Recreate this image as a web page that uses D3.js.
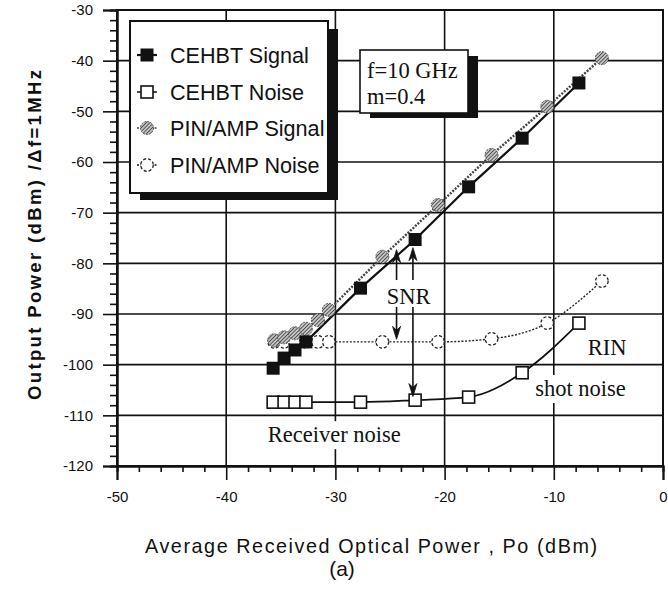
<!DOCTYPE html>
<html>
<head>
<meta charset="utf-8">
<script src="https://cdn.jsdelivr.net/npm/d3@7/dist/d3.min.js"></script>
<style>
  html, body { margin: 0; padding: 0; background: #fff; }
  svg { display: block; }
  .sans { font-family: "Liberation Sans", Arial, Helvetica, sans-serif; }
  .serif { font-family: "Liberation Serif", "Times New Roman", serif; }
</style>
</head>
<body>
<svg id="chart" width="668" height="596"></svg>
<script>
// Received optical power (dBm) for each measured point
const cehbtPower = [-35.7, -34.7, -33.7, -32.7, -27.7, -22.7, -17.8, -12.9, -7.7];
const cehbtSignal = [-100.7, -98.7, -97.1, -95.5, -84.9, -75.3, -64.9, -55.3, -44.4];
const cehbtNoise = [-107.4, -107.4, -107.4, -107.4, -107.4, -107.0, -106.4, -101.6, -91.8];

const pinPower = [-35.6, -34.7, -33.7, -32.7, -31.6, -30.6, -25.7, -20.6, -15.7, -10.6, -5.6];
const pinSignal = [-95.2, -94.6, -93.8, -92.9, -91.2, -89.2, -78.7, -68.5, -58.6, -49.1, -39.5];
const pinNoise = [-95.5, -95.5, -95.5, -95.5, -95.5, -95.5, -95.5, -95.5, -94.9, -91.8, -83.5];

const xTicks = [-50, -40, -30, -20, -10, 0];
const yTicks = [-120, -110, -100, -90, -80, -70, -60, -50, -40, -30];
const xTickLabels = ["-50", "-40", "-30", "-20", "-10", "0"];
const yTickLabels = ["-120", "-110", "-100", "-90", "-80", "-70", "-60", "-50", "-40", "-30"];

const legendLabels = ["CEHBT Signal", "CEHBT Noise", "PIN/AMP Signal", "PIN/AMP Noise"];
const conditionLines = ["f=10 GHz", "m=0.4"];

// SNR arrows: [power, from, to] in dBm
const snrArrows = [
  [-24.4, -83.3, -77.3],
  [-22.9, -83.3, -76.9],
  [-24.4, -88.6, -95.0],
  [-22.9, -88.6, -106.3]
];
// free text notes: [text, power, level]
const notes = [
  ["SNR", -25.3, -88.0],
  ["RIN", -6.9, -98.1],
  ["shot noise", -11.7, -106.2],
  ["Receiver noise", -36.2, -115.3]
];

(function () {
const svg = d3.select("#chart");
const pL = 117, pR = 663, pT = 10, pB = 466;
const x = d3.scaleLinear().domain([-50, 0]).range([pL, pR]);
const y = d3.scaleLinear().domain([-120, -30]).range([pB, pT]);

const defs = svg.append("defs");
const hatch = defs.append("pattern")
  .attr("id", "hatch").attr("patternUnits", "userSpaceOnUse")
  .attr("width", 2.6).attr("height", 2.6)
  .attr("patternTransform", "rotate(45)");
hatch.append("rect").attr("width", 2.6).attr("height", 2.6).attr("fill", "#c4c4c4");
hatch.append("line").attr("x1", 0).attr("y1", 0).attr("x2", 0).attr("y2", 2.6)
  .attr("stroke", "#222").attr("stroke-width", 1.3);

// grid
const grid = svg.append("g").attr("stroke", "#111").attr("stroke-width", 1.6);
grid.selectAll(".gx").data(xTicks).join("line")
  .attr("x1", d => x(d)).attr("x2", d => x(d))
  .attr("y1", pT).attr("y2", pB);
grid.selectAll(".gy").data(yTicks).join("line")
  .attr("x1", pL).attr("x2", pR)
  .attr("y1", d => y(d)).attr("y2", d => y(d));

// axes: major ticks outward, minor ticks every 2 dB
const minorX = d3.range(-50, 0.1, 2).filter(v => !xTicks.includes(v));
const minorY = d3.range(-120, -29.9, 2).filter(v => !yTicks.includes(v));

const xAxis = svg.append("g").attr("transform", `translate(0,${pB})`)
  .call(d3.axisBottom(x).tickValues(xTicks).tickSize(14).tickPadding(14)
    .tickFormat((d, i) => xTickLabels[i]));
const xMinor = svg.append("g").attr("transform", `translate(0,${pB})`)
  .call(d3.axisBottom(x).tickValues(minorX).tickSize(6).tickFormat(""));
const yAxis = svg.append("g").attr("transform", `translate(${pL},0)`)
  .call(d3.axisLeft(y).tickValues(yTicks).tickSize(14).tickPadding(10)
    .tickFormat((d, i) => yTickLabels[i]));
const yMinor = svg.append("g").attr("transform", `translate(${pL},0)`)
  .call(d3.axisLeft(y).tickValues(minorY).tickSize(7).tickFormat(""));

[xAxis, xMinor, yAxis, yMinor].forEach(g => {
  g.select(".domain").attr("stroke", "#111").attr("stroke-width", 2);
  g.selectAll(".tick line").attr("stroke", "#111").attr("stroke-width", 1.6);
  g.selectAll("text").attr("class", "sans").attr("font-size", 15).attr("fill", "#111");
});
xAxis.selectAll("text").attr("dy", "0.55em");

// plot frame
svg.append("rect").attr("x", pL).attr("y", pT)
  .attr("width", pR - pL).attr("height", pB - pT)
  .attr("fill", "none").attr("stroke", "#111").attr("stroke-width", 2);

// notes with white backing
const noteG = svg.append("g");
notes.forEach(([t, px, py]) => {
  const txt = noteG.append("text").attr("class", "serif")
    .attr("x", x(px)).attr("y", y(py)).attr("font-size", 22.5).attr("fill", "#111").text(t);
  const bb = txt.node().getBBox();
  noteG.insert("rect", "text").attr("x", bb.x - 3).attr("y", bb.y - 1)
    .attr("width", bb.width + 6).attr("height", bb.height + 3).attr("fill", "#fff");
});

// series lines
const pts = (xs, ys) => xs.map((v, i) => [v, ys[i]]);
const line = d3.line().x(d => x(d[0])).y(d => y(d[1]));
const smooth = d3.line().x(d => x(d[0])).y(d => y(d[1])).curve(d3.curveMonotoneX);

svg.append("path").datum(pts(pinPower, pinNoise))
  .attr("d", smooth).attr("fill", "none").attr("stroke", "#222")
  .attr("stroke-width", 1.4).attr("stroke-dasharray", "2,1.6");
svg.append("path").datum(pts(cehbtPower, cehbtNoise))
  .attr("d", smooth).attr("fill", "none").attr("stroke", "#111").attr("stroke-width", 1.7);
svg.append("path").datum(pts(cehbtPower, cehbtSignal))
  .attr("d", line).attr("fill", "none").attr("stroke", "#111").attr("stroke-width", 2.2);
svg.append("path").datum(pts(pinPower, pinSignal))
  .attr("d", line).attr("fill", "none").attr("stroke", "#444")
  .attr("stroke-width", 2.4).attr("stroke-dasharray", "2,1.4");

// markers
const drawMarker = (g, kind, cx, cy) => {
  if (kind === 0) {
    g.append("rect").attr("x", cx - 6.5).attr("y", cy - 6.5).attr("width", 13).attr("height", 13)
      .attr("fill", "#111");
  } else if (kind === 1) {
    g.append("rect").attr("x", cx - 6).attr("y", cy - 6).attr("width", 12).attr("height", 12)
      .attr("fill", "#fff").attr("stroke", "#111").attr("stroke-width", 1.6);
  } else if (kind === 2) {
    g.append("circle").attr("cx", cx).attr("cy", cy).attr("r", 6.5)
      .attr("fill", "url(#hatch)").attr("stroke", "#555").attr("stroke-width", 1)
      .attr("stroke-dasharray", "2,1");
  } else {
    g.append("circle").attr("cx", cx).attr("cy", cy).attr("r", 6.3)
      .attr("fill", "#fff").attr("stroke", "#222").attr("stroke-width", 1.3)
      .attr("stroke-dasharray", "3,2");
  }
};
const marks = svg.append("g");
pinPower.forEach((p, i) => drawMarker(marks, 3, x(p), y(pinNoise[i])));
cehbtPower.forEach((p, i) => drawMarker(marks, 1, x(p), y(cehbtNoise[i])));
pinPower.forEach((p, i) => drawMarker(marks, 2, x(p), y(pinSignal[i])));
cehbtPower.forEach((p, i) => drawMarker(marks, 0, x(p), y(cehbtSignal[i])));

// SNR arrows
const arrows = svg.append("g").attr("stroke", "#111").attr("fill", "#111");
snrArrows.forEach(([p, a, b]) => {
  const ax = x(p), y0 = y(a), y1 = y(b);
  const dir = y1 < y0 ? -1 : 1;
  arrows.append("line").attr("x1", ax).attr("x2", ax).attr("y1", y0).attr("y2", y1 - dir * 8)
    .attr("stroke-width", 1.6);
  arrows.append("path")
    .attr("d", `M${ax},${y1} L${ax - 4},${y1 - dir * 13} L${ax},${y1 - dir * 9} L${ax + 4},${y1 - dir * 13} Z`)
    .attr("stroke-width", 0.8);
});

// legend box with drop shadow
const lg = svg.append("g");
lg.append("rect").attr("x", 140).attr("y", 29).attr("width", 198).attr("height", 171).attr("fill", "#111");
lg.append("rect").attr("x", 130).attr("y", 21).attr("width", 198).attr("height", 172)
  .attr("fill", "#fff").attr("stroke", "#111").attr("stroke-width", 2);
const rowY = [55, 92, 128, 165];
legendLabels.forEach((t, i) => {
  const ly = rowY[i];
  const seg = lg.append("line").attr("x1", 137).attr("x2", 157).attr("y1", ly).attr("y2", ly)
    .attr("stroke", i === 2 ? "#444" : "#111").attr("stroke-width", i === 0 ? 2.2 : 1.5);
  if (i >= 2) seg.attr("stroke-dasharray", "2,1.5");
  drawMarker(lg, i, 147, ly);
  lg.append("text").attr("class", "sans").attr("x", 170).attr("y", ly + 7.5)
    .attr("font-size", 21.6).attr("fill", "#111").text(t);
});

// operating conditions box
const cg = svg.append("g");
cg.append("rect").attr("x", 370).attr("y", 56).attr("width", 108).attr("height", 62).attr("fill", "#111");
cg.append("rect").attr("x", 360).attr("y", 50).attr("width", 108).attr("height", 63)
  .attr("fill", "#fff").attr("stroke", "#111").attr("stroke-width", 1.6);
conditionLines.forEach((t, i) => {
  cg.append("text").attr("class", "serif").attr("x", 367).attr("y", 78 + i * 26)
    .attr("font-size", 22.5).attr("fill", "#111").text(t);
});

// axis titles
svg.append("text").attr("class", "sans")
  .attr("transform", "translate(41,235) rotate(-90)")
  .attr("text-anchor", "middle").attr("font-weight", "bold").attr("font-size", 18.5)
  .attr("textLength", 330).attr("lengthAdjust", "spacing").attr("fill", "#111")
  .text("Output  Power  (dBm) /Δf=1MHz");
svg.append("text").attr("class", "sans")
  .attr("x", 371).attr("y", 553).attr("text-anchor", "middle").attr("font-size", 19.8)
  .attr("textLength", 452).attr("lengthAdjust", "spacing").attr("fill", "#111")
  .text("Average Received Optical  Power , Po (dBm)");
svg.append("text").attr("class", "sans")
  .attr("x", 342).attr("y", 576).attr("text-anchor", "middle").attr("font-size", 21)
  .attr("fill", "#111").text("(a)");
})();
</script>
</body>
</html>
